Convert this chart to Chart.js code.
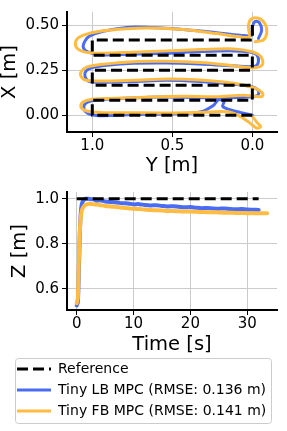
<!DOCTYPE html>
<html>
<head>
<meta charset="utf-8">
<script src="https://cdn.jsdelivr.net/npm/chart.js@4.4.1/dist/chart.umd.min.js"></script>
<style>
  body { margin: 0; background: #fff; }
  #wrap { position: relative; width: 287px; height: 431px; }
  canvas { position: absolute; left: 0; }
  #xyChart { top: 0; }
  #zChart { top: 180px; }
</style>
</head>
<body>
<div id="wrap">
  <canvas id="xyChart" width="287" height="180"></canvas>
  <canvas id="zChart" width="287" height="251"></canvas>
</div>
<script>
// ---- 1. DATA -------------------------------------------------------
// top plot: horizontal = Y [m] (reversed), vertical = X [m]
const refPathY = [0, 1, 1, 0, 0, 1, 1, 0, 0, 1, 1, 0, 0];
const refPathX = [0, 0, 0.083, 0.083, 0.167, 0.167, 0.25, 0.25, 0.333, 0.333, 0.417, 0.417, 0.5];

const lbPathY = [0.000, 0.077, 0.140, 0.185, 0.177, 0.212, 0.244, 0.327, 0.535, 0.744, 0.952, 1.025,
  1.052, 1.040, 0.983, 0.848, 0.640, 0.431, 0.223, 0.056, -0.031, -0.038, 0.004, 0.119, 0.327,
  0.535, 0.744, 0.952, 1.025, 1.046, 1.040, 1.004, 0.910, 0.744, 0.535, 0.327, 0.119, -0.017,
  -0.038, -0.027, 0.015, 0.119, 0.327, 0.535, 0.744, 0.952, 1.025, 1.056, 1.046, 1.015, 0.931,
  0.785, 0.640, 0.431, 0.223, 0.077, 0.004, 0.000, -0.017, -0.044, -0.058, -0.038];
const lbPathX = [0.000, 0.016, 0.031, 0.049, 0.078, 0.085, 0.054, 0.018, 0.007, 0.004, -0.002, 0.009,
  0.036, 0.067, 0.085, 0.092, 0.100, 0.100, 0.096, 0.100, 0.109, 0.136, 0.158, 0.172, 0.187,
  0.194, 0.187, 0.183, 0.190, 0.217, 0.245, 0.263, 0.277, 0.288, 0.290, 0.284, 0.274, 0.272,
  0.299, 0.335, 0.350, 0.357, 0.353, 0.344, 0.339, 0.335, 0.350, 0.375, 0.411, 0.440, 0.466,
  0.487, 0.487, 0.476, 0.458, 0.444, 0.444, 0.489, 0.520, 0.513, 0.471, 0.426];

const fbPathY = [-0.002, -0.031, -0.052, -0.027, 0.025, 0.088, 0.160, 0.327, 0.535, 0.744, 0.952, 1.035,
  1.071, 1.060, 1.004, 0.848, 0.640, 0.431, 0.223, 0.056, -0.058, -0.065, -0.017, 0.119, 0.327,
  0.535, 0.744, 0.952, 1.040, 1.071, 1.067, 1.031, 0.952, 0.744, 0.535, 0.327, 0.119, -0.006,
  -0.063, -0.052, 0.004, 0.119, 0.327, 0.535, 0.744, 0.952, 1.056, 1.102, 1.098, 1.046, 0.952,
  0.785, 0.640, 0.431, 0.223, 0.077, 0.019, 0.025, 0.010, -0.038, -0.079, -0.090, -0.069, -0.017];
const fbPathX = [-0.009, -0.042, -0.063, -0.071, -0.036, 0.000, 0.020, 0.016, 0.013, 0.014, 0.016, 0.024,
  0.045, 0.072, 0.089, 0.094, 0.101, 0.105, 0.103, 0.111, 0.103, 0.121, 0.150, 0.178, 0.196,
  0.201, 0.194, 0.190, 0.194, 0.217, 0.245, 0.268, 0.281, 0.297, 0.299, 0.292, 0.275, 0.263,
  0.281, 0.326, 0.353, 0.368, 0.364, 0.357, 0.350, 0.344, 0.353, 0.380, 0.420, 0.447, 0.466,
  0.480, 0.484, 0.475, 0.453, 0.435, 0.435, 0.489, 0.531, 0.538, 0.507, 0.458, 0.417, 0.408];

// bottom plot: Z over time
const refTime = [0, 32];
const refZ = [1.0, 1.0];

const lbTime = [0, 0.2, 0.4, 0.6, 0.8, 1.0, 1.3, 1.6, 2.0, 2.5, 3, 3.5, 4, 5, 6, 7, 8, 9, 10, 11, 12,
  13, 14, 15, 16, 17, 18, 19, 20, 21, 22, 23, 24, 25, 26, 27, 28, 29, 30, 31, 32];
const lbZ = [0.525, 0.54, 0.70, 0.88, 0.96, 0.985, 0.995, 1.0, 1.0, 0.998, 0.997, 0.991, 0.993, 0.988,
  0.985, 0.983, 0.98, 0.979, 0.975, 0.976, 0.972, 0.97, 0.971, 0.968, 0.966, 0.967, 0.964, 0.962,
  0.963, 0.96, 0.958, 0.959, 0.957, 0.956, 0.957, 0.954, 0.953, 0.954, 0.952, 0.951, 0.95];

const fbTime = [0, 0.2, 0.4, 0.6, 0.8, 1.0, 1.3, 1.6, 2.0, 2.5, 3, 3.5, 4, 5, 6, 7, 8, 9, 10, 11, 12,
  13, 14, 15, 16, 17, 18, 19, 20, 21, 22, 23, 24, 25, 26, 27, 28, 29, 30, 31, 32, 33, 33.5];
const fbZ = [0.535, 0.56, 0.74, 0.88, 0.935, 0.955, 0.967, 0.973, 0.977, 0.977, 0.975, 0.974, 0.972,
  0.968, 0.966, 0.963, 0.96, 0.958, 0.955, 0.954, 0.952, 0.95, 0.949, 0.948, 0.946, 0.945, 0.944,
  0.943, 0.943, 0.942, 0.941, 0.94, 0.94, 0.939, 0.938, 0.938, 0.937, 0.937, 0.936, 0.936, 0.935,
  0.935, 0.935];

// tick labels
const yTicksTop = [1.0, 0.5, 0.0];
const xTicksTop = [0.0, 0.25, 0.5];
const timeTicks = [0, 10, 20, 30];
const zTicks = [0.6, 0.8, 1.0];

const seriesLabels = ['Reference', 'Tiny LB MPC (RMSE: 0.136 m)', 'Tiny FB MPC (RMSE: 0.141 m)'];

// ---- 2. STYLE -------------------------------------------------------
Chart.defaults.font.family = '"DejaVu Sans", sans-serif';
Chart.defaults.color = '#000';

const BLUE = '#4a6cf2';
const ORANGE = '#ffbc42';
const GRID = '#cbcbcb';

function toPoints(xs, ys) {
  return xs.map((x, i) => ({ x: x, y: ys[i] }));
}

function makeScale(o) {
  return {
    type: 'linear',
    min: o.min,
    max: o.max,
    reverse: !!o.reverse,
    afterBuildTicks: (s) => { s.ticks = o.ticks.map(v => ({ value: v })); },
    afterFit: (s) => {
      if (o.width) s.width = o.width;
      if (o.height) s.height = o.height;
    },
    grid: { color: GRID, lineWidth: 1, tickColor: '#000', tickLength: 5, tickWidth: 1 },
    border: { color: '#000', width: 2 },
    ticks: {
      font: { size: 15 },
      color: '#000',
      padding: o.pad,
      autoSkip: false,
      maxRotation: 0,
      callback: (v) => Number(v).toFixed(o.digits)
    },
    title: {
      display: true,
      text: o.title,
      color: '#000',
      font: { size: 19.5, lineHeight: 1 },
      padding: o.titlePad
    }
  };
}

function lineSet(label, data, color, width, order, dash) {
  return {
    label: label,
    data: data,
    showLine: true,
    borderColor: color,
    backgroundColor: color,
    borderWidth: width,
    borderDash: dash || [],
    borderCapStyle: dash ? 'butt' : 'round',
    borderJoinStyle: 'round',
    tension: dash ? 0 : 0.35,
    pointRadius: 0,
    fill: false,
    order: order
  };
}

// ---- 3. TOP: X vs Y -------------------------------------------------
new Chart(document.getElementById('xyChart'), {
  type: 'scatter',
  data: {
    datasets: [
      lineSet(seriesLabels[0], toPoints(refPathY, refPathX), '#000', 3, 0, [11, 5]),
      lineSet(seriesLabels[1], toPoints(lbPathY, lbPathX), BLUE, 3, 2),
      lineSet(seriesLabels[2], toPoints(fbPathY, fbPathX), ORANGE, 3, 1)
    ]
  },
  options: {
    responsive: false,
    animation: false,
    devicePixelRatio: 1,
    layout: { padding: { left: 0, right: 10, top: 10, bottom: 0 } },
    plugins: { legend: { display: false }, tooltip: { enabled: false } },
    scales: {
      x: makeScale({ min: -0.154, max: 1.158, reverse: true, ticks: yTicksTop, digits: 1,
        height: 48, pad: 0, title: 'Y [m]', titlePad: { top: 0, bottom: 4 } }),
      y: makeScale({ min: -0.0927, max: 0.5725, ticks: xTicksTop, digits: 2,
        width: 67, pad: 3, title: 'X [m]', titlePad: { top: 0, bottom: 0 } })
    }
  }
});

// ---- 4. BOTTOM: Z vs time + legend ----------------------------------
const legendFrame = {
  id: 'legendFrame',
  afterDraw(chart) {
    const lg = chart.legend;
    const ctx = chart.ctx;
    ctx.save();
    ctx.strokeStyle = '#cccccc';
    ctx.lineWidth = 1;
    ctx.beginPath();
    ctx.roundRect(lg.left + 5.5, lg.top + 3.5, lg.width - 11, 65, 3);
    ctx.stroke();
    ctx.restore();
  }
};

new Chart(document.getElementById('zChart'), {
  type: 'scatter',
  data: {
    datasets: [
      lineSet(seriesLabels[0], toPoints(refTime, refZ), '#000', 3, 0, [11, 5]),
      lineSet(seriesLabels[1], toPoints(lbTime, lbZ), BLUE, 4, 2),
      lineSet(seriesLabels[2], toPoints(fbTime, fbZ), ORANGE, 4, 1)
    ]
  },
  options: {
    responsive: false,
    animation: false,
    devicePixelRatio: 1,
    layout: { padding: { left: 10, right: 10, top: 7, bottom: 3 } },
    plugins: {
      tooltip: { enabled: false },
      legend: {
        position: 'bottom',
        align: 'start',
        labels: {
          font: { size: 14 },
          color: '#000',
          usePointStyle: true,
          pointStyle: 'line',
          pointStyleWidth: 34,
          padding: 7,
          sort: (a, b) => a.datasetIndex - b.datasetIndex,
          // point-style items take the point's style, so copy the line dash back in
          generateLabels: (chart) =>
            Chart.defaults.plugins.legend.labels.generateLabels(chart).map(item => {
              const ds = chart.data.datasets[item.datasetIndex];
              return Object.assign(item, {
                lineWidth: 3,
                lineCap: 'butt',
                lineDash: ds.borderDash,
                strokeStyle: ds.borderColor
              });
            })
        }
      }
    },
    scales: {
      x: makeScale({ min: -1.706, max: 35.23, ticks: timeTicks, digits: 0,
        height: 45, pad: 0, title: 'Time [s]', titlePad: { top: 0, bottom: 0 } }),
      y: makeScale({ min: 0.505, max: 1.03, ticks: zTicks, digits: 1,
        width: 57, pad: 3, title: 'Z [m]', titlePad: { top: 0, bottom: 0 } })
    }
  },
  plugins: [legendFrame]
});
</script>
</body>
</html>
